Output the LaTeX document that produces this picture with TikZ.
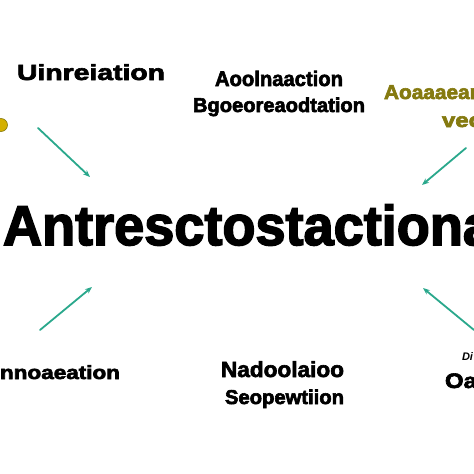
\documentclass[tikz,border=0pt]{standalone}
\usepackage{fontspec}
\setmainfont{Liberation Sans}
\usetikzlibrary{arrows.meta}
\definecolor{tealarrow}{HTML}{2AA88C}
\definecolor{olivetext}{HTML}{857A10}
\definecolor{golddot}{HTML}{D4B000}
\newcommand{\fitw}[3]{\resizebox{#1}{\height}{\special{pdf:literal direct 2 Tr #2 w}#3\special{pdf:literal direct 0 Tr}}}
\begin{document}
\begin{tikzpicture}[x=1pt,y=-1pt,
  txt/.style={anchor=base west, inner sep=0pt, outer sep=0pt, text=black},
  oltxt/.style={txt, text=olivetext},
  pointer/.style={draw=tealarrow, line width=1.8pt, line cap=round, -{Stealth[length=7pt,width=5.5pt]}}]
\useasboundingbox (0,0) rectangle (474,474);
\clip (0,0) rectangle (474,474);
\fill[white] (0,0) rectangle (474,474);
% top left label
\node[txt, font=\fontsize{22}{24}\selectfont\bfseries] (ul) at (17,80) {\fitw{148pt}{0.6}{Uinreiation}};
% top middle labels
\node[txt, font=\fontsize{21}{24}\selectfont\bfseries] (tm1) at (215,86) {\fitw{128pt}{0.6}{Aoolnaaction}};
\node[txt, font=\fontsize{20}{24}\selectfont\bfseries] (tm2) at (193,112) {\fitw{172pt}{0.6}{Bgoeoreaodtation}};
% top right olive labels
\node[oltxt, font=\fontsize{20}{24}\selectfont\bfseries] (tr1) at (384,99) {\fitw{110pt}{0.6}{Aoaaaeana}};
\node[oltxt, font=\fontsize{20}{24}\selectfont\bfseries] (tr2) at (442,127) {\fitw{40pt}{0.6}{vec}};
% gold dot at left edge
\node[circle, fill=golddot, draw=olivetext, line width=0.6pt, minimum size=13pt, inner sep=0pt] (dot) at (1,125) {};
% central title
\node[txt, font=\fontsize{56}{60}\selectfont\bfseries] (title) at (3,245) {\fitw{490pt}{1.6}{Antresctostactiona}};
% bottom labels
\node[txt, font=\fontsize{19}{22}\selectfont\bfseries] (bl) at (0,379) {\fitw{120pt}{0.6}{nnoaeation}};
\node[txt, font=\fontsize{22}{24}\selectfont\bfseries] (bm1) at (221,377) {\fitw{123pt}{0.6}{Nadoolaioo}};
\node[txt, font=\fontsize{20}{24}\selectfont\bfseries] (bm2) at (225,404) {\fitw{119pt}{0.6}{Seopewtiion}};
\node[txt, font=\fontsize{11}{12}\selectfont\bfseries\itshape] (br1) at (462,360) {Di};
\node[txt, font=\fontsize{21}{24}\selectfont\bfseries] (br2) at (445,388) {\fitw{32pt}{0.6}{Oa}};
% arrow end points
\coordinate (a1s) at (38,128);  \coordinate (a1e) at (90,177);
\coordinate (a2s) at (466,148); \coordinate (a2e) at (422,185);
\coordinate (a3s) at (40,330);  \coordinate (a3e) at (92,287);
\coordinate (a4s) at (474,330); \coordinate (a4e) at (423,288);
\draw[pointer] (a1s) -- (a1e);
\draw[pointer] (a2s) -- (a2e);
\draw[pointer] (a3s) -- (a3e);
\draw[pointer] (a4s) -- (a4e);
\end{tikzpicture}
\end{document}
